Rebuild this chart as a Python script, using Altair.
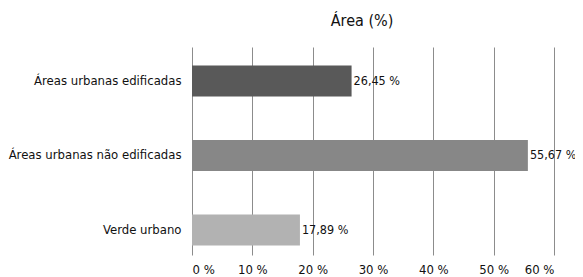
import altair as alt
import pandas as pd

categories = ["Áreas urbanas edificadas", "Áreas urbanas não edificadas", "Verde urbano"]
values = [26.45, 55.67, 17.89]
labels = ["26,45 %", "55,67 %", "17,89 %"]
colors = ["#595959", "#878787", "#b2b2b2"]
ticks = [0, 10, 20, 30, 40, 50, 60]

df = pd.DataFrame({"cat": categories, "val": values, "lab": labels})

FONT = "DejaVu Sans Condensed, Roboto, sans-serif"

y = alt.Y("cat:N", sort=categories, title=None,
          scale=alt.Scale(paddingInner=0.584, paddingOuter=0.188, align=0.66),
          axis=alt.Axis(domain=False, ticks=False, labelPadding=11, labelFontSize=13,
                        labelFont=FONT, labelColor="#111111", grid=False))
x = alt.X("val:Q", title=None,
          scale=alt.Scale(domain=[0, 60], nice=False),
          axis=alt.Axis(values=ticks, labelExpr="datum.value + ' %'", domain=False, ticks=False,
                        grid=True, gridColor="#8c8c8c", gridWidth=1, labelFontSize=13,
                        labelFont=FONT, labelColor="#111111", labelPadding=8))

bars = alt.Chart(df).mark_bar().encode(
    x=x, y=y,
    color=alt.Color("cat:N", scale=alt.Scale(domain=categories, range=colors), legend=None),
)
text = alt.Chart(df).mark_text(align="left", baseline="middle", dx=2, fontSize=12.5,
                               font=FONT, color="#111111").encode(
    x="val:Q", y=alt.Y("cat:N", sort=categories), text="lab:N")

chart = (bars + text).properties(
    width=362, height=208,
    autosize=alt.AutoSizeParams(type="none"),
    padding={"left": 184, "top": 39, "right": 21, "bottom": 22},
    title=alt.TitleParams("Área (%)", fontSize=16, font=FONT, fontWeight="normal",
                          color="#111111", offset=18, dx=-11),
).configure_view(stroke=None)

chart.save("out.html", embed_options={"renderer": "svg", "actions": False})
